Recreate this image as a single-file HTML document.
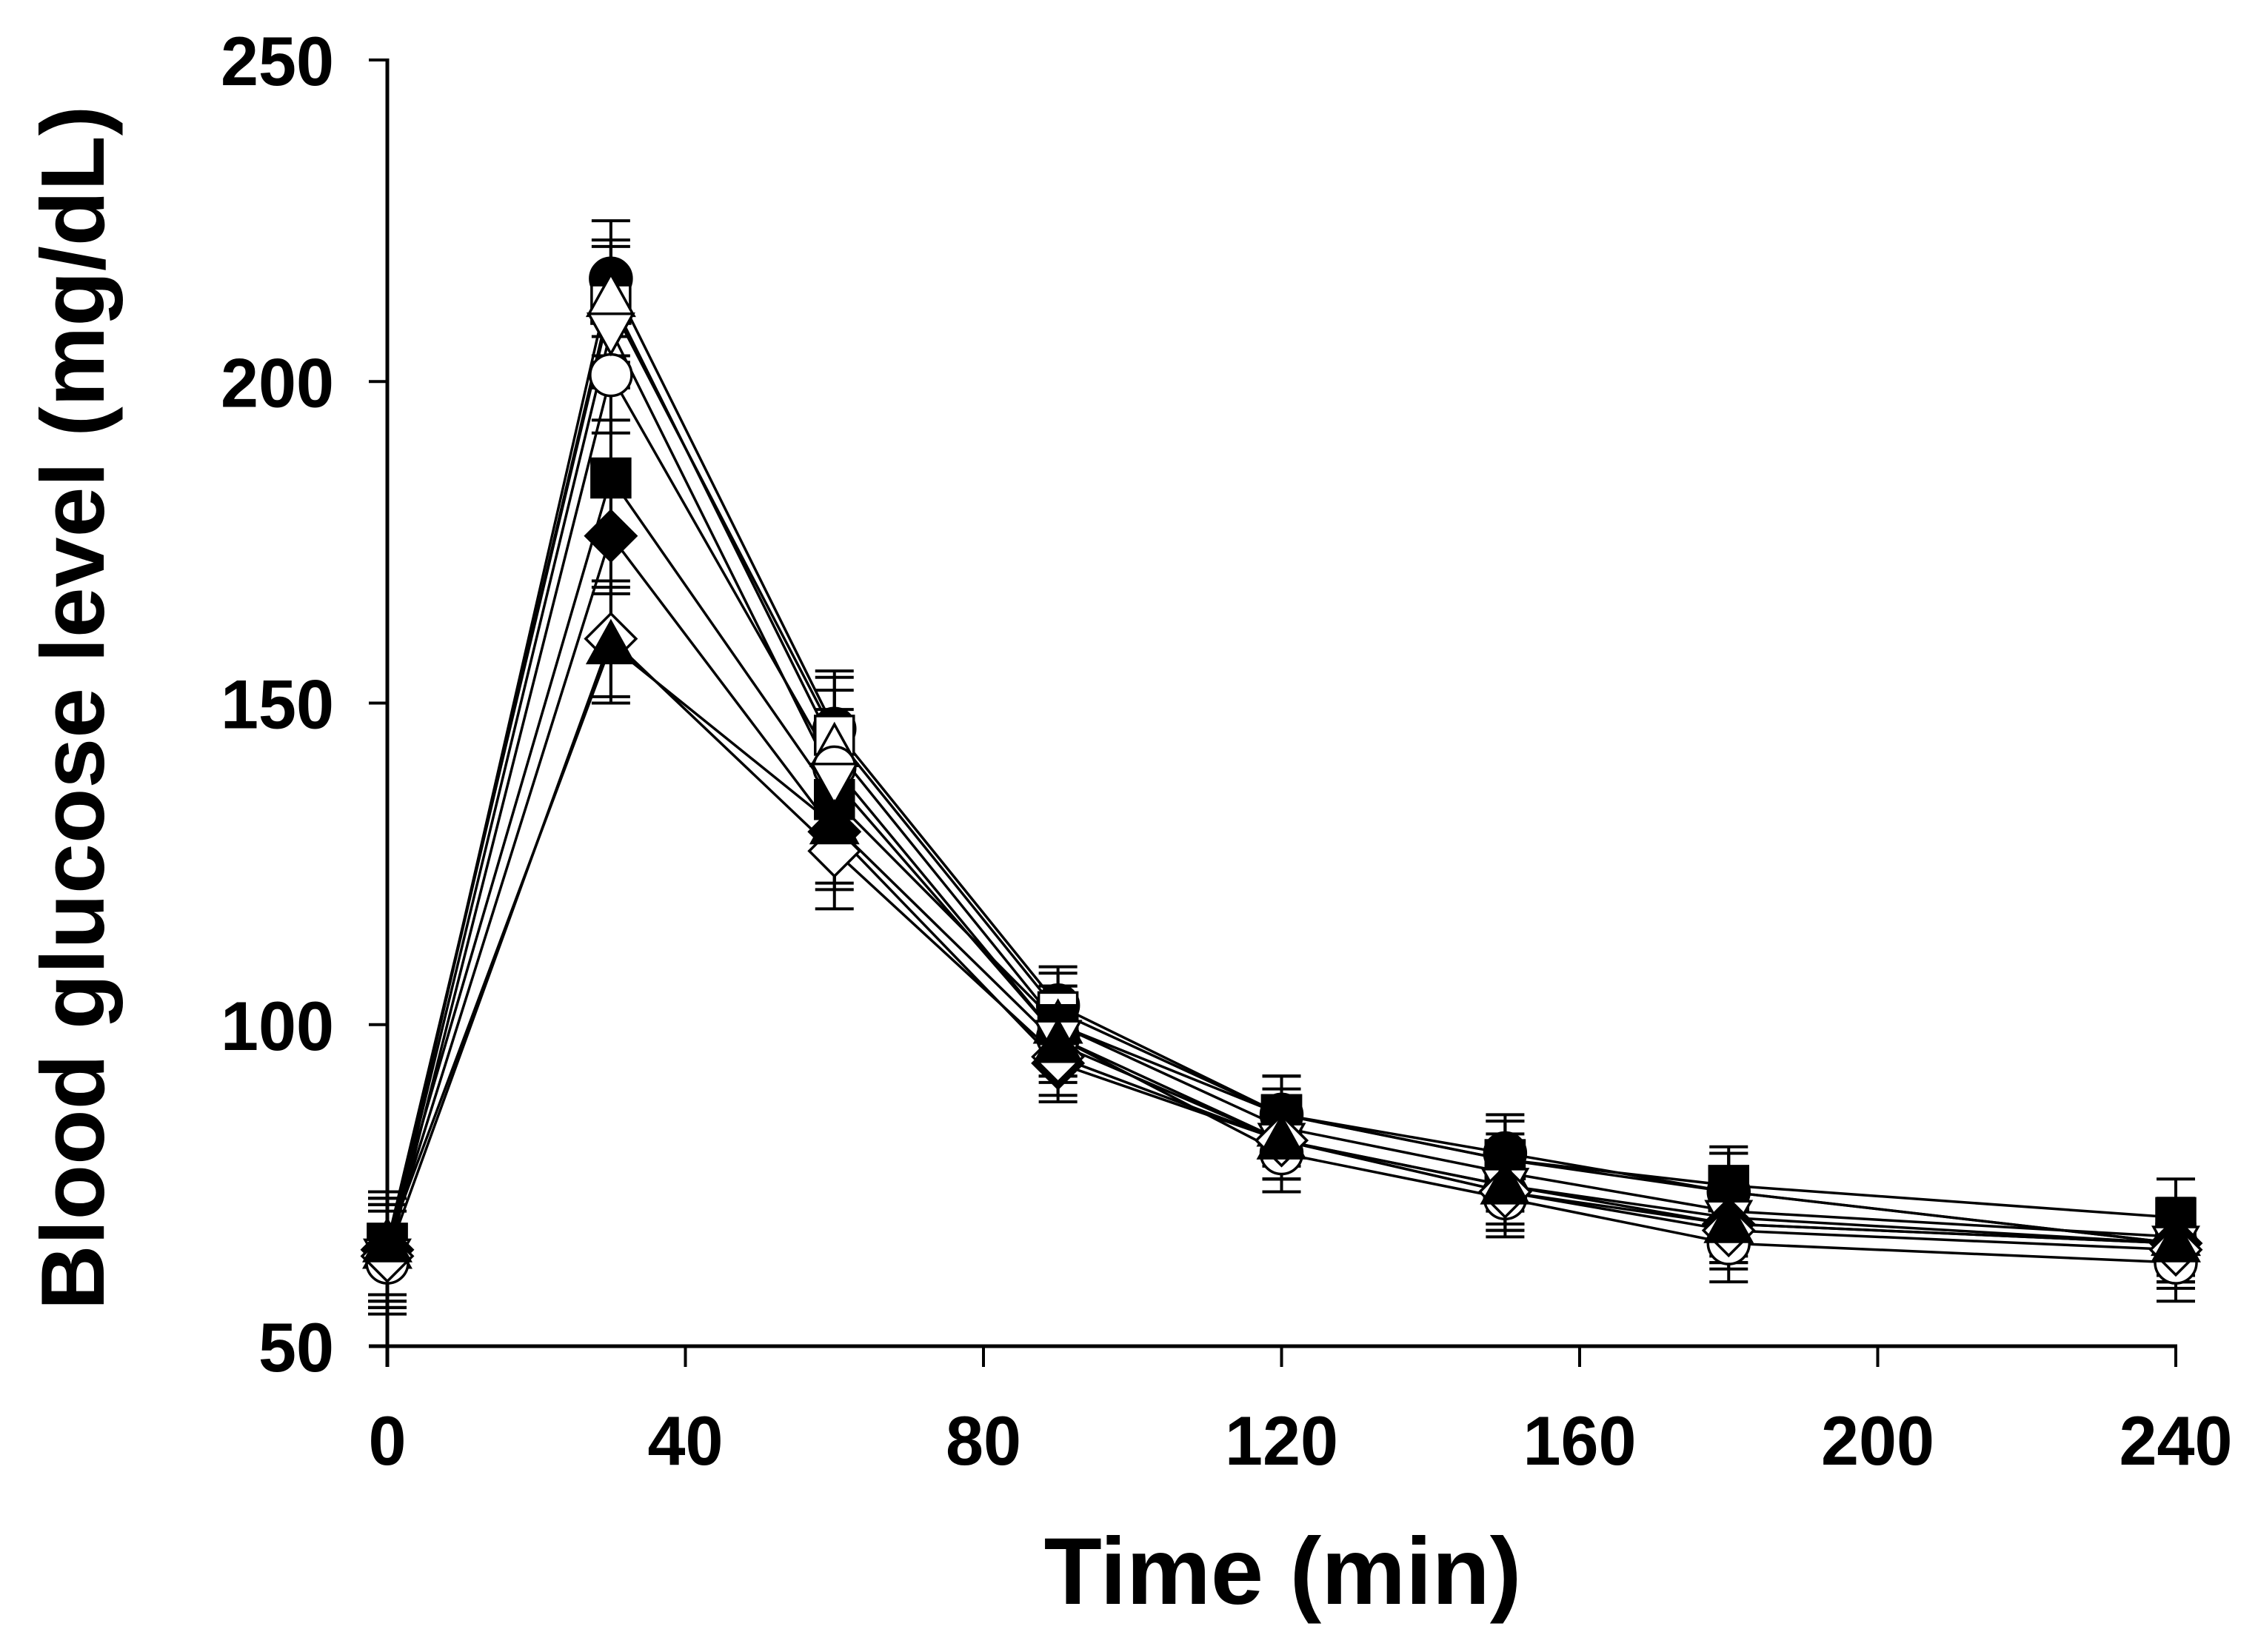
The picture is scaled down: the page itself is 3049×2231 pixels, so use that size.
<!DOCTYPE html>
<html><head><meta charset="utf-8"><style>
html,body{margin:0;padding:0;background:#fff;}
svg{display:block;}
text{font-family:"Liberation Sans",Arial,sans-serif;font-weight:bold;fill:#000;}
</style></head><body>
<svg id="chart" width="3049" height="2231" viewBox="0 0 3049 2231" xmlns="http://www.w3.org/2000/svg">
<g id="axes"></g>
<g id="plot"></g>
<text x="1732" y="2166" font-size="128" text-anchor="middle">Time (min)</text>
<text transform="translate(140,956) rotate(-90)" font-size="122" text-anchor="middle">Blood glucose level (mg/dL)</text>
</svg>
<script>
const times = [0, 30, 60, 90, 120, 150, 180, 240];
const xTicks = [0, 40, 80, 120, 160, 200, 240];
const yTicks = [50, 100, 150, 200, 250];
const errAt = [8, 9, 9, 6, 6, 6, 6, 6];
const filledCircle = [64, 216, 146, 103, 86, 80, 74, 66];
const openSquare = [66, 212, 145, 102, 86, 79, 74, 66];
const openTriangle = [65, 213, 143, 100, 84, 77, 71, 67];
const openCircle = [63, 201, 140, 98, 80, 73, 66, 63];
const filledSquare = [66, 185, 135, 100, 86, 79, 75, 70];
const openInvTriangle = [64, 208, 138, 98, 82, 75, 70, 66];
const filledDiamond = [65, 176, 130, 94, 82, 74, 69, 66];
const openDiamond = [64, 160, 127, 95, 82, 74, 68, 65];
const filledTriangle = [66, 159, 131, 97, 82, 75, 69, 66];
const seriesNames = ['filled-circle','open-square','open-triangle','open-circle','filled-square','open-inv-triangle','filled-diamond','open-diamond','filled-triangle'];
const seriesData = [filledCircle, openSquare, openTriangle, openCircle, filledSquare, openInvTriangle, filledDiamond, openDiamond, filledTriangle];

const X0 = 523, X1 = 2938, Y0 = 1818, Y1 = 81;
const xs = v => X0 + (v - 0) / 240 * (X1 - X0);
const ys = v => Y0 - (v - 50) / 200 * (Y0 - Y1);
const NS = 'http://www.w3.org/2000/svg';
function mk(tag, attrs, parent) {
  const e = document.createElementNS(NS, tag);
  for (const k in attrs) e.setAttribute(k, attrs[k]);
  parent.appendChild(e); return e;
}
const axes = document.getElementById('axes');
const plot = document.getElementById('plot');
const xl = mk('line', {x1: X0 - 25, y1: Y0, x2: X1 + 2, y2: Y0, stroke: '#000', 'stroke-width': 5}, axes);


const yl = mk('line', {x1: X0, y1: Y0 + 28, x2: X0, y2: Y1 - 2, stroke: '#000', 'stroke-width': 5}, axes);


xTicks.forEach(t => {
  const tk = mk('line', {x1: xs(t), y1: Y0, x2: xs(t), y2: Y0 + 28, stroke: '#000', 'stroke-width': 4}, axes);
  
  
  const s = String(t);
  const tx = mk('text', {x: xs(t), y: Y0 + 160, 'font-size': 94, 'text-anchor': 'middle', textLength: s.length * 51, lengthAdjust: 'spacingAndGlyphs'}, axes);
  tx.textContent = s;
  
  
});
yTicks.forEach(t => {
  const tk = mk('line', {x1: X0 - 25, y1: ys(t), x2: X0, y2: ys(t), stroke: '#000', 'stroke-width': 4}, axes);
  
  
  const s = String(t);
  const tx = mk('text', {x: 451, y: ys(t) + 34, 'font-size': 94, 'text-anchor': 'end', textLength: s.length * 51, lengthAdjust: 'spacingAndGlyphs'}, axes);
  tx.textContent = s;
  
  
});
function marker(type, cx, cy, g) {
  const r = 26;
  const filled = type.startsWith('filled');
  const st = {fill: filled ? '#000' : '#fff', stroke: '#000', 'stroke-width': 3.5};
  let e;
  if (type.endsWith('circle')) e = mk('circle', Object.assign({cx, cy, r: r + 2}, st), g);
  else if (type.endsWith('square')) e = mk('rect', Object.assign({x: cx - r, y: cy - r, width: 2 * r, height: 2 * r}, st), g);
  else if (type.endsWith('inv-triangle')) e = mk('polygon', Object.assign({points: `${cx-r-4},${cy-r+4} ${cx+r+4},${cy-r+4} ${cx},${cy+r+6}`}, st), g);
  else if (type.endsWith('triangle')) e = mk('polygon', Object.assign({points: `${cx-r-5},${cy+r-2} ${cx+r+5},${cy+r-2} ${cx},${cy-r-6}`}, st), g);
  else e = mk('polygon', Object.assign({points: `${cx},${cy-r-8} ${cx+r+8},${cy} ${cx},${cy+r+8} ${cx-r-8},${cy}`}, st), g);
  return e;
}
seriesData.forEach((vals, si) => {
  const g = mk('g', {}, plot);
  
  
  const pts = vals.map((v, i) => xs(times[i]) + ',' + ys(v)).join(' ');
  const pl = mk('polyline', {points: pts, fill: 'none', stroke: '#000', 'stroke-width': 3.5}, g);
  
  
  vals.forEach((v, i) => {
    const cx = xs(times[i]), e = errAt[i];
    const eb = mk('path', {d: `M${cx},${ys(v+e)}V${ys(v-e)}M${cx-26},${ys(v+e)}H${cx+26}M${cx-26},${ys(v-e)}H${cx+26}`, stroke: '#000', 'stroke-width': 4, fill: 'none'}, g);
    
    
  });
});
seriesData.forEach((vals, si) => {
  const g = mk('g', {}, plot);
  
  
  vals.forEach((v, i) => {
    const m = marker(seriesNames[si], xs(times[i]), ys(v), g);
    
    
  });
});
</script>
</body></html>
